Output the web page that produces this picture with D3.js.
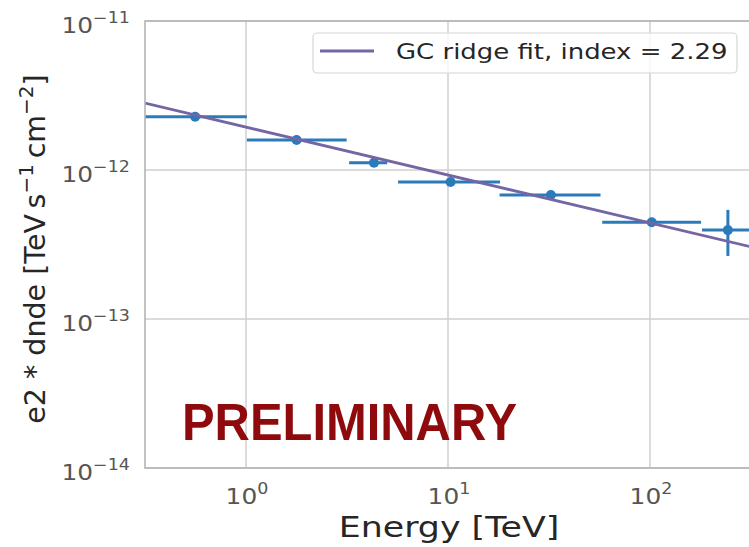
<!DOCTYPE html>
<html>
<head>
<meta charset="utf-8">
<script src="https://cdn.jsdelivr.net/npm/d3@7"></script>
<style>
  html, body { margin: 0; padding: 0; background: #fff; }
  svg { display: block; font-family: "DejaVu Sans", sans-serif; }
</style>
</head>
<body>
<div id="chart"></div>
<script>
// ── Data ───────────────────────────────────────────────────────────────────
const energy   = [0.56, 1.78, 4.3, 10.3, 32.3, 102, 243];
const energyLo = [0.316, 1.01, 3.24, 5.66, 18.0, 58.0, 181];
const energyHi = [1.01, 3.15, 5.0, 18.1, 56.9, 179, 400];
const flux     = [2.28e-12, 1.59e-12, 1.12e-12, 8.3e-13, 6.8e-13, 4.46e-13, 3.95e-13];
const fluxLo   = [2.18e-12, 1.53e-12, 1.07e-12, 7.9e-13, 6.5e-13, 4.2e-13, 2.65e-13];
const fluxHi   = [2.38e-12, 1.65e-12, 1.17e-12, 8.7e-13, 7.1e-13, 4.7e-13, 5.4e-13];

const fitEnergy = [0.316, 316];
const fitFlux   = [2.81e-12, 3.05e-13];

const xTicks = [1, 10, 100];
const xTickExp = ["0", "1", "2"];
const yTicks = [1e-11, 1e-12, 1e-13, 1e-14];
const yTickExp = ["\u221211", "\u221212", "\u221213", "\u221214"];

const legendLabel = "GC ridge fit, index = 2.29";

// ── Layout ─────────────────────────────────────────────────────────────────
const W = 749, H = 547;
const PLOT = { left: 145, right: 751, top: 21, bottom: 468 };
const SX = 1.13;   // the source picture is a bit wider than its fonts

const BLUE = "#2b7bba";
const PURPLE = "#7565a4";
const GRID = "#cfcfcf";

const svg = d3.select("#chart").append("svg").attr("width", W).attr("height", H);

const x = d3.scaleLog().domain([Math.pow(10, -0.5), Math.pow(10, 2.5)]).range([PLOT.left, PLOT.right]);
const y = d3.scaleLog().domain([1e-14, 1e-11]).range([PLOT.bottom, PLOT.top]);

svg.append("clipPath").attr("id", "clip")
  .append("rect")
  .attr("x", PLOT.left).attr("y", PLOT.top)
  .attr("width", PLOT.right - PLOT.left).attr("height", PLOT.bottom - PLOT.top);

// ── Grid ───────────────────────────────────────────────────────────────────
const grid = svg.append("g");
grid.selectAll("line.gx")
  .data(xTicks)
  .enter()
  .append("line")
  .attr("x1", d => x(d)).attr("x2", d => x(d))
  .attr("y1", PLOT.top).attr("y2", PLOT.bottom)
  .attr("stroke", GRID).attr("stroke-width", 1.5);
grid.selectAll("line.gy")
  .data(yTicks)
  .enter()
  .append("line")
  .attr("x1", PLOT.left).attr("x2", PLOT.right)
  .attr("y1", d => y(d)).attr("y2", d => y(d))
  .attr("stroke", GRID).attr("stroke-width", 1.5);

// ── PRELIMINARY stamp ──────────────────────────────────────────────────────
svg.append("text")
  .attr("x", 182).attr("y", 440)
  .attr("font-family", "'Liberation Sans', Arial, sans-serif")
  .attr("font-weight", "bold")
  .attr("font-size", 51)
  .attr("textLength", 335)
  .attr("lengthAdjust", "spacingAndGlyphs")
  .attr("fill", "#8e0a0c")
  .text("PRELIMINARY");

// ── Marks ──────────────────────────────────────────────────────────────────
const plot = svg.append("g").attr("clip-path", "url(#clip)");

const idx = d3.range(energy.length);

plot.selectAll("line.xerr")
  .data(idx)
  .enter()
  .append("line")
  .attr("x1", i => x(energyLo[i])).attr("x2", i => x(energyHi[i]))
  .attr("y1", i => y(flux[i])).attr("y2", i => y(flux[i]))
  .attr("stroke", BLUE).attr("stroke-width", 3);

plot.selectAll("line.yerr")
  .data(idx)
  .enter()
  .append("line")
  .attr("x1", i => x(energy[i])).attr("x2", i => x(energy[i]))
  .attr("y1", i => y(fluxLo[i])).attr("y2", i => y(fluxHi[i]))
  .attr("stroke", BLUE).attr("stroke-width", 3);

plot.selectAll("circle")
  .data(idx)
  .enter()
  .append("circle")
  .attr("cx", i => x(energy[i]))
  .attr("cy", i => y(flux[i]))
  .attr("r", 5)
  .attr("fill", BLUE);

// Fit line
const line = d3.line().x(i => x(fitEnergy[i])).y(i => y(fitFlux[i]));
plot.append("path")
  .datum(d3.range(fitEnergy.length))
  .attr("fill", "none")
  .attr("stroke", PURPLE)
  .attr("stroke-width", 2.8)
  .attr("d", line);

// ── Frame ──────────────────────────────────────────────────────────────────
svg.append("rect")
  .attr("x", PLOT.left).attr("y", PLOT.top)
  .attr("width", PLOT.right - PLOT.left).attr("height", PLOT.bottom - PLOT.top)
  .attr("fill", "none").attr("stroke", "#b5b5b5").attr("stroke-width", 1.6);

// ── Tick labels ────────────────────────────────────────────────────────────
const xl = svg.selectAll("text.xt")
  .data(xTicks)
  .enter()
  .append("text")
  .attr("transform", d => `translate(${x(d) + 1},504) scale(${SX},1)`)
  .attr("text-anchor", "middle")
  .attr("fill", "#555")
  .attr("font-size", 22);
xl.append("tspan").text("10");
xl.append("tspan").attr("font-size", 15.5).attr("dy", -10).text((d, i) => xTickExp[i]);

const yl = svg.selectAll("text.yt")
  .data(yTicks)
  .enter()
  .append("text")
  .attr("transform", d => `translate(130,${y(d) + 12}) scale(${SX},1)`)
  .attr("text-anchor", "end")
  .attr("fill", "#555")
  .attr("font-size", 22);
yl.append("tspan").text("10");
yl.append("tspan").attr("font-size", 15.5).attr("dy", -10).text((d, i) => yTickExp[i]);

// ── Axis labels ────────────────────────────────────────────────────────────
svg.append("text")
  .attr("transform", `translate(449,537) scale(1.2,1)`)
  .attr("text-anchor", "middle")
  .attr("fill", "#262626")
  .attr("font-size", 29)
  .text("Energy [TeV]");

const ylab = svg.append("text")
  .attr("transform", "translate(45,249) rotate(-90)")
  .attr("text-anchor", "middle")
  .attr("fill", "#262626")
  .attr("font-size", 28.5);
ylab.append("tspan").text("e2 * dnde [TeV\u2009s");
ylab.append("tspan").attr("font-size", 20).attr("dy", -12).text("\u22121");
ylab.append("tspan").attr("dy", 12).text("\u2009cm");
ylab.append("tspan").attr("font-size", 20).attr("dy", -12).text("\u22122");
ylab.append("tspan").attr("dy", 12).text("]");

// ── Legend ─────────────────────────────────────────────────────────────────
const lg = svg.append("g");
lg.append("rect")
  .attr("x", 313).attr("y", 33)
  .attr("width", 424).attr("height", 40)
  .attr("rx", 4)
  .attr("fill", "#fff").attr("fill-opacity", 0.8)
  .attr("stroke", "#d6d6d6").attr("stroke-width", 1.2);
lg.append("line")
  .attr("x1", 320).attr("x2", 374)
  .attr("y1", 51).attr("y2", 51)
  .attr("stroke", PURPLE).attr("stroke-width", 2.8);
lg.append("text")
  .attr("transform", "translate(396,59) scale(1.18,1)")
  .attr("fill", "#262626")
  .attr("font-size", 22)
  .text(legendLabel);
</script>
</body>
</html>
